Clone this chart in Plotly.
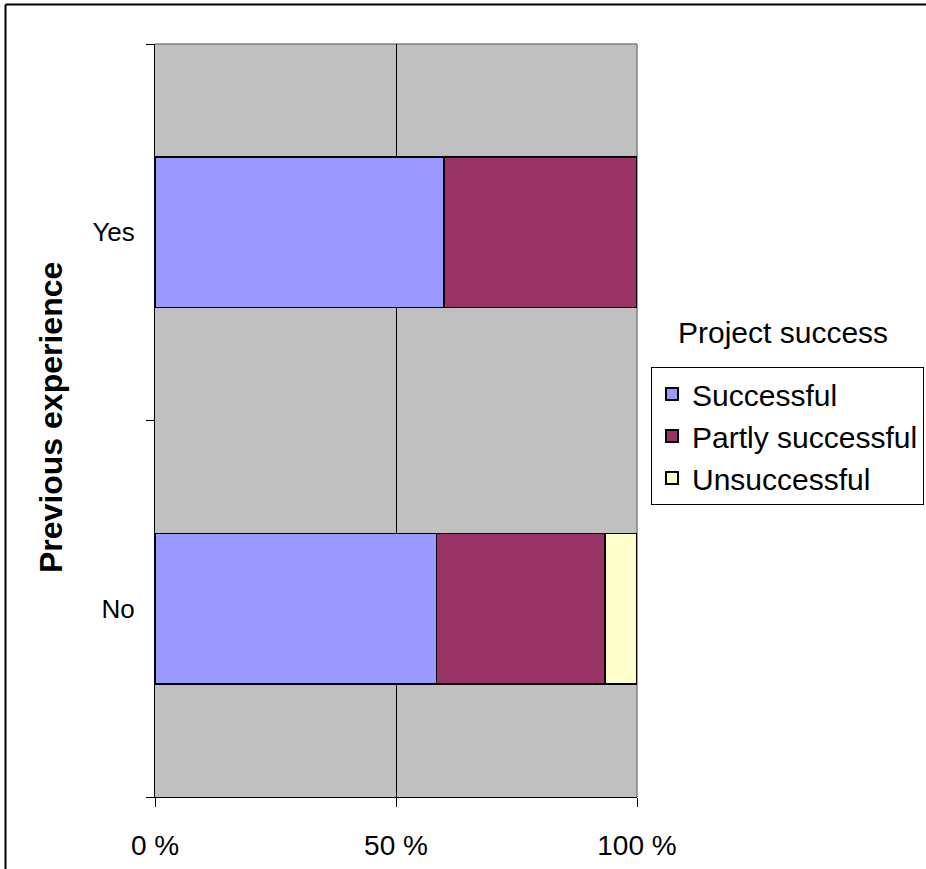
import plotly.graph_objects as go

# Share of projects (%) by previous experience
categories = ["No", "Yes"]
successful = [58.4, 60.0]
partly_successful = [35.0, 40.0]
unsuccessful = [6.6, 0.0]

series_names = ["Successful", "Partly successful", "Unsuccessful"]
series_values = [successful, partly_successful, unsuccessful]
series_colors = ["#9999FF", "#993366", "#FFFFCC"]

x_tick_vals = [0, 50, 100]
x_tick_text = ["0 %", "50 %", "100 %"]

FONT = "Liberation Sans, Arial, sans-serif"

fig = go.Figure()
for name, vals, color in zip(series_names, series_values, series_colors):
    fig.add_trace(go.Bar(
        y=categories,
        x=vals,
        name=name,
        orientation="h",
        width=0.4,
        marker=dict(color=color, line=dict(color="black", width=1.5)),
    ))

W, H = 926, 869
L, R, T, B = 155, 289, 44, 72
pw, ph = W - L - R, H - T - B


def px_x(p):
    return (p - L) / pw


def px_y(p):
    return (H - B - p) / ph


fig.update_layout(
    width=W,
    height=H,
    margin=dict(l=L, r=R, t=T, b=B, autoexpand=False),
    barmode="stack",
    bargap=0.6,
    paper_bgcolor="white",
    plot_bgcolor="#C0C0C0",
    font=dict(family=FONT, color="black"),
    showlegend=True,
    legend=dict(
        x=px_x(651), y=px_y(367),
        xanchor="left", yanchor="top",
        bordercolor="black", borderwidth=1,
        bgcolor="white",
        font=dict(size=30, family=FONT),
        traceorder="normal",
        itemsizing="constant",
        tracegroupgap=0,
    ),
    xaxis=dict(
        range=[0, 100],
        tickvals=x_tick_vals,
        ticktext=x_tick_text,
        showgrid=True,
        gridcolor="black",
        gridwidth=1,
        showline=True,
        linecolor="black",
        linewidth=1,
        ticks="outside",
        ticklen=9,
        tickcolor="black",
        tickfont=dict(size=28, family=FONT),
        ticklabelstandoff=14,
        zeroline=False,
    ),
    yaxis=dict(
        type="category",
        categoryorder="array",
        categoryarray=categories,
        range=[-0.5, 1.5],
        showgrid=False,
        showline=True,
        linecolor="black",
        linewidth=1,
        ticks="outside",
        tickson="boundaries",
        ticklen=8,
        tickcolor="black",
        tickfont=dict(size=26, family=FONT),
        ticklabelstandoff=14,
        zeroline=False,
    ),
)

# Gray frame on the top and right of the plotting area
fig.add_shape(type="line", xref="paper", yref="paper", x0=0, x1=1, y0=1, y1=1,
              line=dict(color="#808080", width=1.5), layer="below")
fig.add_shape(type="line", xref="paper", yref="paper", x0=1, x1=1, y0=0, y1=1,
              line=dict(color="#808080", width=1.5), layer="below")

# Outer border of the chart (top and left edges)
fig.add_shape(type="line", xref="paper", yref="paper",
              x0=px_x(5.5), x1=px_x(926), y0=px_y(4.5), y1=px_y(4.5),
              line=dict(color="black", width=2))
fig.add_shape(type="line", xref="paper", yref="paper",
              x0=px_x(5.5), x1=px_x(5.5), y0=px_y(4.5), y1=px_y(869),
              line=dict(color="black", width=2))

# Axis title
fig.add_annotation(
    text="<b>Previous experience</b>",
    xref="paper", yref="paper",
    x=px_x(51), y=px_y(418),
    xanchor="center", yanchor="middle",
    textangle=-90, showarrow=False,
    font=dict(size=32, family=FONT, color="black"),
)

# Legend heading
fig.add_annotation(
    text="Project success",
    xref="paper", yref="paper",
    x=px_x(783), y=px_y(332),
    xanchor="center", yanchor="middle",
    showarrow=False,
    font=dict(size=30, family=FONT, color="black"),
)

fig.write_html("out.html", config={"displayModeBar": False})
